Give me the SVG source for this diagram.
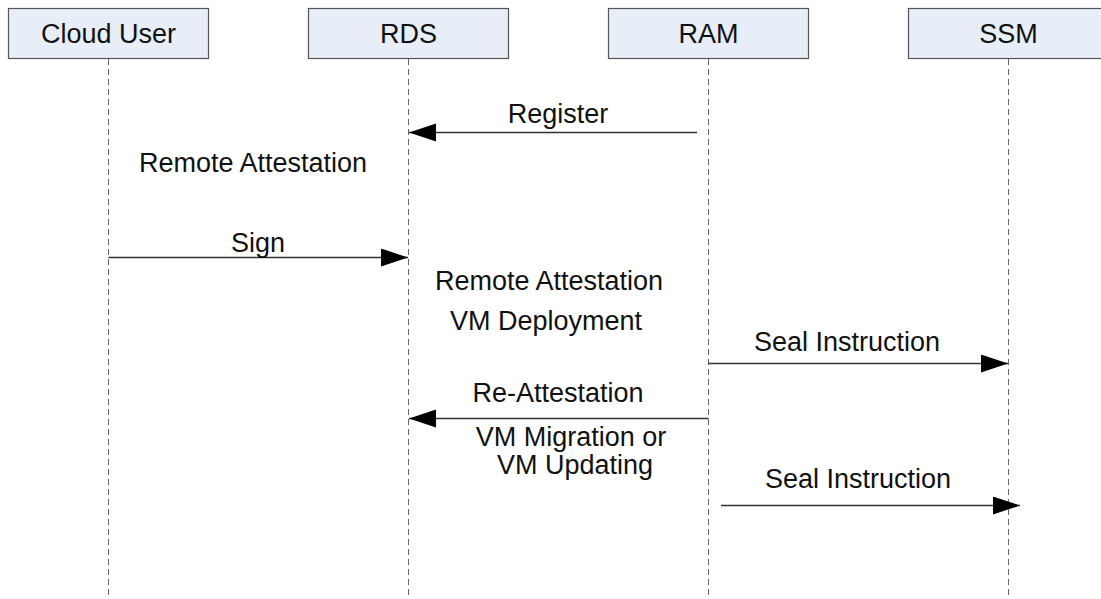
<svg xmlns="http://www.w3.org/2000/svg" width="1101" height="599" viewBox="0 0 1101 599">
  <style>
    .box { fill: #e8eef8; stroke: #555; stroke-width: 1.2; }
    .life { stroke: #666; stroke-width: 1; stroke-dasharray: 6 4; fill: none; }
    .msg { stroke: #333; stroke-width: 1.3; fill: none; marker-end: url(#head); }
    text { font-family: "Liberation Sans", Arial, sans-serif; font-size: 27px; fill: #111; text-anchor: middle; }
  </style>
  <defs>
    <marker id="head" markerUnits="userSpaceOnUse" markerWidth="28" markerHeight="20" refX="27" refY="9" orient="auto">
      <path d="M0,0 L27,9 L0,18 Z" fill="#000"/>
    </marker>
  </defs>
  <rect width="1101" height="599" fill="#fff"/>

  <g id="cloud-user">
    <rect class="box" x="8.5" y="8.5" width="200" height="50"/>
    <line class="life" x1="108.5" y1="59" x2="108.5" y2="599"/>
    <text x="108.5" y="43">Cloud User</text>
  </g>
  <g id="rds">
    <rect class="box" x="308.5" y="8.5" width="200" height="50"/>
    <line class="life" x1="408.5" y1="59" x2="408.5" y2="599"/>
    <text x="408.5" y="43">RDS</text>
  </g>
  <g id="ram">
    <rect class="box" x="608.5" y="8.5" width="200" height="50"/>
    <line class="life" x1="708.5" y1="59" x2="708.5" y2="599"/>
    <text x="708.5" y="43">RAM</text>
  </g>
  <g id="ssm">
    <rect class="box" x="908.5" y="8.5" width="200" height="50"/>
    <line class="life" x1="1008.5" y1="59" x2="1008.5" y2="599"/>
    <text x="1008.5" y="43">SSM</text>
  </g>

  <g id="connectors">
    <line class="msg" x1="697" y1="132.5" x2="409" y2="132.5"/>
    <line class="msg" x1="108.5" y1="257.5" x2="408" y2="257.5"/>
    <line class="msg" x1="708.5" y1="363.5" x2="1008" y2="363.5"/>
    <line class="msg" x1="708.5" y1="418.5" x2="409" y2="418.5"/>
    <line class="msg" x1="721" y1="505.5" x2="1020" y2="505.5"/>
  </g>

  <g id="labels">
    <text x="558" y="123">Register</text>
    <text x="253" y="172">Remote Attestation</text>
    <text x="258" y="252">Sign</text>
    <text x="549" y="290">Remote Attestation</text>
    <text x="546" y="330">VM Deployment</text>
    <text x="847" y="351">Seal Instruction</text>
    <text x="558" y="402">Re-Attestation</text>
    <text x="571" y="446">VM Migration or</text>
    <text x="575" y="474">VM Updating</text>
    <text x="858" y="488">Seal Instruction</text>
  </g>
</svg>
